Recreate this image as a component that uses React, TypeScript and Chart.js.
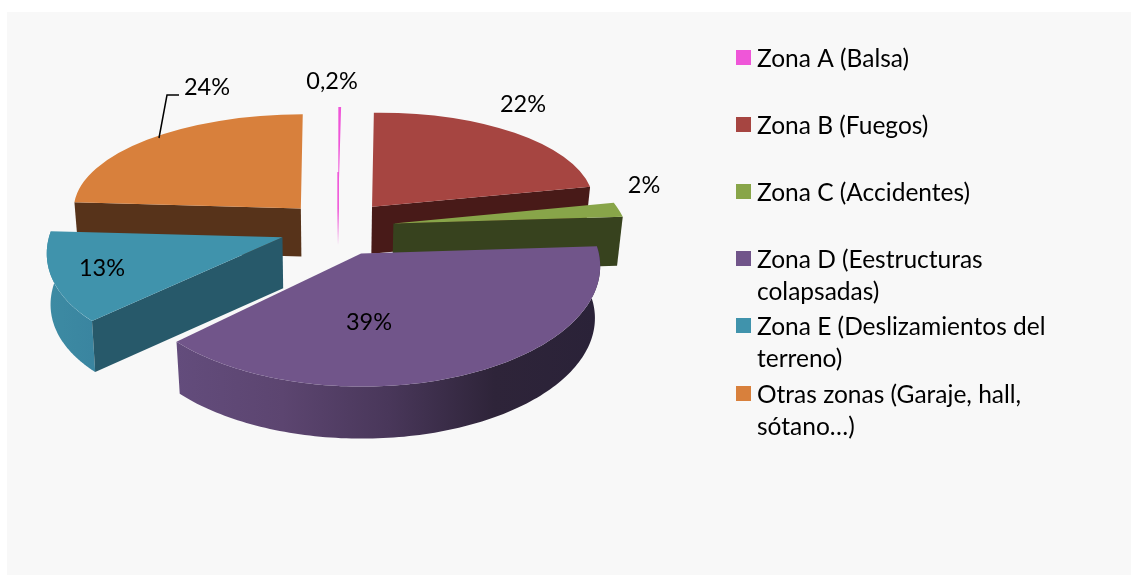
import React, { useEffect, useRef } from "react";
import { Chart, registerables } from "chart.js";

Chart.register(...registerables);

// ---- data ----
const categories = [
  "Zona A (Balsa)",
  "Zona B (Fuegos)",
  "Zona C (Accidentes)",
  "Zona D (Eestructuras colapsadas)",
  "Zona E (Deslizamientos del terreno)",
  "Otras zonas (Garaje, hall, sótano…)",
];
const legendLines = [
  ["Zona A (Balsa)"],
  ["Zona B (Fuegos)"],
  ["Zona C (Accidentes)"],
  ["Zona D (Eestructuras", "colapsadas)"],
  ["Zona E (Deslizamientos del", "terreno)"],
  ["Otras zonas (Garaje, hall,", "sótano…)"],
];
const shares = [0.2, 22, 2, 39, 13, 24];
const shareLabels = ["0,2%", "22%", "2%", "39%", "13%", "24%"];

// ---- style ----
const topColors = ["#ef56d8", "#a64541", "#88a549", "#71558a", "#4093ac", "#d8803c"];
const cutColors = ["#ef56d8", "#481a18", "#37421e", "#3a2c48", "#27596a", "#57331a"];
const cutFace = ["fade", "end", "end", "none", "start", "start"];
const rimStops: (string[] | null)[] = [
  null,
  null,
  null,
  ["#634c7c", "#5c4570", "#49375a", "#2e2439", "#2a2238"],
  ["#3d8ba3", "#3a85a0"],
  null,
];
// per-slice projection (fractions of the radius): x' = (a x + c y) / w, y' = (b x + d y) / w, w = 1 + g y / r
const sliceA = [0.92, 0.924, 0.967, 0.99, 0.975, 0.946];
const sliceB = [0, -0.014, -0.004, -0.004, -0.008, 0];
const sliceC = [0, 0.004, 0.187, 0.012, -0.117, -0.008];
const sliceD = [0.396, 0.392, 0.467, 0.499, 0.504, 0.392];
const sliceG = [0, 0, 0, -0.1, 0, 0];
const sliceExplode = [58, 59, 59, 58, 58, 58];
const sliceNudgeX = [0, -1, 0, 0, 0, 0];
const sliceNudgeY = [0, 0, 2, 2, 2, 0];
const sliceDepth = [43, 47, 49, 52, 51, 48];
const sliceInset = [0.98, 0.98, 0.98, 0.98, 0.987, 0.985];
const drawOrder = [5, 0, 1, 2, 4, 3];

const labelX = [332, 523, 644, 369, 102, 207];
const labelY = [81, 104, 185, 322, 268, 87];
const FONT = "Lato, 'Open Sans', sans-serif";

const pie3dPlugin = {
  id: "pie3d",
  beforeDatasetDraw(chart: any, args: any) {
    const ctx: CanvasRenderingContext2D = chart.ctx;
    const arcs = args.meta.data;
    for (const i of drawOrder) {
      const el = arcs[i];
      const R = el.outerRadius;
      const mid = (el.startAngle + el.endAngle) / 2;
      const ex = Math.cos(mid) * sliceExplode[i];
      const ey = Math.sin(mid) * sliceExplode[i];
      const cx = el.x + sliceNudgeX[i];
      const cy = el.y + sliceNudgeY[i];
      const a = sliceA[i], b = sliceB[i], c = sliceC[i], d = sliceD[i], g0 = sliceG[i];
      const tip = { x: cx + a * ex + c * ey, y: cy + b * ex + d * ey };
      const onArc = (t: number) => {
        const u = R * Math.cos(t);
        const v = R * Math.sin(t);
        const w = 1 + g0 * Math.sin(t);
        return { x: tip.x + (a * u + c * v) / w, y: tip.y + (b * u + d * v) / w };
      };
      const lower = (p: { x: number; y: number }) => ({
        x: el.x + (p.x - el.x) * sliceInset[i],
        y: p.y + sliceDepth[i],
      });
      const n = 120;
      const top: { x: number; y: number }[] = [];
      for (let k = 0; k <= n; k++) {
        top.push(onArc(el.startAngle + ((el.endAngle - el.startAngle) * k) / n));
      }

      // rim (outer wall)
      const stops = rimStops[i];
      if (stops) {
        const xs = top.map((p) => p.x);
        const grad = ctx.createLinearGradient(Math.min(...xs), 0, Math.max(...xs), 0);
        stops.forEach((s, k) => grad.addColorStop(k / (stops.length - 1), s));
        ctx.beginPath();
        top.forEach((p, k) => (k ? ctx.lineTo(p.x, p.y) : ctx.moveTo(p.x, p.y)));
        [...top].reverse().forEach((p) => {
          const q = lower(p);
          ctx.lineTo(q.x, q.y);
        });
        ctx.closePath();
        ctx.fillStyle = grad;
        ctx.fill();
      }

      // cut face
      const tipLow = lower(tip);
      if (cutFace[i] === "fade") {
        // the thin sliver: face fades out downwards and also bridges the narrow tip
        const overlap = 30;
        const grad = ctx.createLinearGradient(0, tip.y - overlap, 0, tipLow.y);
        grad.addColorStop(0, cutColors[i]);
        grad.addColorStop(0.5, cutColors[i]);
        grad.addColorStop(1, "rgba(239,86,216,0)");
        ctx.fillStyle = grad;
        ctx.fillRect(tip.x - 1, tip.y - overlap, 1.6, sliceDepth[i] + overlap);
      } else if (cutFace[i] !== "none") {
        const edge = onArc(cutFace[i] === "end" ? el.endAngle : el.startAngle);
        const edgeLow = lower(edge);
        ctx.beginPath();
        ctx.moveTo(tip.x, tip.y);
        ctx.lineTo(edge.x, edge.y);
        ctx.lineTo(edgeLow.x, edgeLow.y);
        ctx.lineTo(tipLow.x, tipLow.y);
        ctx.closePath();
        ctx.fillStyle = cutColors[i];
        ctx.fill();
      }

      // top surface: the library's own arc seen through the projection
      if (g0 === 0) {
        ctx.save();
        ctx.translate(tip.x, tip.y);
        ctx.transform(a, b, c, d, 0, 0);
        ctx.translate(-el.x, -el.y);
        el.draw(ctx, chart.chartArea);
        ctx.restore();
      } else {
        ctx.beginPath();
        ctx.moveTo(tip.x, tip.y);
        top.forEach((p) => ctx.lineTo(p.x, p.y));
        ctx.closePath();
        ctx.fillStyle = el.options.backgroundColor;
        ctx.fill();
      }
    }
    return false;
  },
  afterDraw(chart: any) {
    const ctx: CanvasRenderingContext2D = chart.ctx;
    ctx.save();
    // leader line of the 24% label
    ctx.strokeStyle = "#000";
    ctx.lineWidth = 1.5;
    ctx.beginPath();
    ctx.moveTo(159, 138);
    ctx.lineTo(167, 95);
    ctx.lineTo(179, 95);
    ctx.stroke();

    ctx.font = `23.5px ${FONT}`;
    ctx.fillStyle = "#000";
    ctx.textBaseline = "middle";
    ctx.textAlign = "center";
    shareLabels.forEach((t, i) => ctx.fillText(t, labelX[i], labelY[i]));

    // legend
    const legendTops = [58, 125, 192, 259, 326, 394];
    ctx.font = `24.5px ${FONT}`;
    ctx.textAlign = "left";
    legendLines.forEach((lines, i) => {
      ctx.fillStyle = topColors[i];
      ctx.fillRect(736, legendTops[i] - 8, 15, 15);
      ctx.fillStyle = "#000";
      lines.forEach((l, k) => ctx.fillText(l, 757, legendTops[i] + 1 + k * 32));
    });
    ctx.restore();
  },
};

export default function App() {
  const ref = useRef<HTMLCanvasElement>(null);
  useEffect(() => {
    const chart = new Chart(ref.current!, {
      type: "pie",
      data: {
        labels: categories,
        datasets: [
          {
            data: shares,
            backgroundColor: topColors,
            borderColor: topColors,
            borderWidth: 0,
          },
        ],
      },
      options: {
        responsive: false,
        animation: false,
        radius: 240,
        layout: { padding: { left: 0, top: 0, right: 455, bottom: 126 } },
        events: [],
        plugins: { legend: { display: false }, tooltip: { enabled: false } },
      } as any,
      plugins: [pie3dPlugin],
    });
    return () => chart.destroy();
  }, []);
  return (
    <div style={{ position: "absolute", left: 0, top: 0, width: 1131, height: 576, background: "#fff", overflow: "hidden" }}>
      <div style={{ position: "absolute", left: 7, top: 12, width: 1124, height: 563, background: "#f8f8f8" }} />
      <canvas ref={ref} width={1131} height={576} style={{ position: "absolute", left: 0, top: 0, display: "block" }} />
    </div>
  );
}
